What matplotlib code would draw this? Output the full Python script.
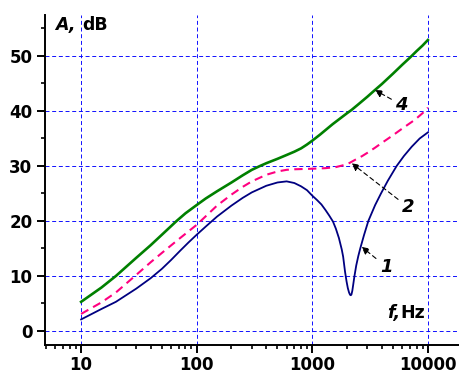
import matplotlib
matplotlib.use("Agg")
import matplotlib.pyplot as plt
from matplotlib.ticker import FixedLocator, NullFormatter

plt.rcParams["font.family"] = ["DejaVu Sans"]
plt.rcParams["font.weight"] = "bold"

# curve 1 (navy)
f1 = [10, 15, 20, 30, 40, 50, 60, 72, 85, 100, 120, 150, 200, 250, 300, 400, 500,
      600, 700, 800, 900, 1000, 1100, 1200, 1300, 1400, 1510, 1600, 1700, 1800,
      1850, 1920, 1980, 2030, 2080, 2120, 2150, 2180, 2220, 2260, 2310, 2400,
      2500, 2600, 2800, 3055, 3500, 3930, 4500, 5370, 6200, 7250, 8500, 10000]
a1 = [2.1, 4.0, 5.3, 7.7, 9.6, 11.3, 12.9, 14.6, 16.1, 17.5, 19.0, 20.8, 22.8, 24.2, 25.2, 26.4, 27.0,
      27.2, 26.9, 26.3, 25.6, 24.6, 23.8, 23.0, 22.0, 21.0, 19.9, 18.6, 16.9, 14.8,
      13.5, 10.8, 9.0, 7.8, 7.0, 6.6, 6.5, 6.6, 7.3, 8.4, 9.8, 11.9,
      13.6, 15.0, 17.4, 20.0, 22.9, 25.0, 27.3, 30.0, 31.8, 33.5, 35.0, 36.1]

# curve 2 (magenta, dashed)
f2 = [10, 15, 20, 30, 40, 51.4, 70, 100, 150, 200, 250, 300, 400, 500, 600, 700,
      1000, 1300, 1600, 2000, 2340, 2700, 3000, 3480, 4000, 5000, 6000, 7720, 9000, 10000]
a2 = [3.1, 5.2, 7.0, 10.2, 12.5, 14.4, 16.7, 19.3, 22.8, 24.8, 26.2, 27.2, 28.4, 29.0, 29.3, 29.4,
      29.5, 29.6, 29.8, 30.3, 31.1, 31.8, 32.4, 33.3, 34.2, 35.6, 36.8, 38.4, 39.6, 40.6]

# curve 4 (green)
f4 = [10, 15, 20, 30, 40, 50, 67, 80, 100, 120, 150, 200, 250, 300, 353, 400, 500,
      600, 700, 800, 900, 1000, 1167, 1500, 2000, 2190, 2500, 3000, 3480, 4000,
      5000, 6000, 7000, 8000, 9000, 10000]
a4 = [5.3, 7.9, 10.0, 13.3, 15.6, 17.5, 20.0, 21.4, 22.9, 24.1, 25.4, 27.0, 28.3, 29.3, 30.0, 30.5, 31.3,
      32.0, 32.6, 33.2, 33.9, 34.6, 35.7, 37.6, 39.6, 40.2, 41.2, 42.6, 43.8, 44.9,
      46.8, 48.4, 49.7, 50.9, 51.9, 52.9]

yticks = [0, 10, 20, 30, 40, 50]
yminor = [5, 15, 25, 35, 45, 55]
xticks = [10, 100, 1000, 10000]
xlabels = ["10", "100", "1000", "10000"]

fig = plt.figure(figsize=(4.6, 3.74), dpi=100)
ax = fig.add_axes([45.5 / 460, 29 / 374, 414.5 / 460, 330 / 374])

ax.plot(f4, a4, color="#008000", lw=1.9, zorder=3)
ax.plot(f2, a2, color="#ff0080", lw=1.5, dashes=(4, 2.6), zorder=3)
ax.plot(f1, a1, color="#000080", lw=1.3, zorder=3)

ax.set_xscale("log")
ax.set_xlim(4.92, 18970)
ax.set_ylim(-2.55, 57.45)

ax.xaxis.set_major_locator(FixedLocator(xticks))
ax.set_xticklabels(xlabels)
minx = [m * 10 ** d for d in range(0, 5) for m in range(2, 10)]
ax.xaxis.set_minor_locator(FixedLocator(minx))
ax.xaxis.set_minor_formatter(NullFormatter())
ax.set_yticks(yticks)
ax.set_yticks(yminor, minor=True)

for s in ["top", "right"]:
    ax.spines[s].set_visible(False)
for s in ["left", "bottom"]:
    ax.spines[s].set_linewidth(1.4)

ax.tick_params(which="major", direction="out", length=6, width=1.4, pad=3.5,
               labelsize=12)
ax.tick_params(axis="x", which="major", pad=1.8)
ax.tick_params(which="minor", direction="out", length=3, width=1.2)

ax.grid(True, which="major", color="#0000ff", lw=0.65, linestyle=(0, (4.4, 3.0)))

# axis titles
ax.text(0.023, 0.970, "A,", transform=ax.transAxes, fontsize=12.5,
        fontstyle="italic", va="center", ha="left")
ax.text(0.088, 0.970, "dB", transform=ax.transAxes, fontsize=12.5,
        va="center", ha="left")
ax.text(0.824, 0.096, "f,", transform=ax.transAxes, fontsize=12.5,
        fontstyle="italic", va="center", ha="left")
ax.text(0.855, 0.096, "Hz", transform=ax.transAxes, fontsize=12.5,
        va="center", ha="left")

# curve labels
arrow = dict(arrowstyle="-|>", color="black", lw=0.8, linestyle=(0, (4, 3)),
             mutation_scale=11, shrinkA=1, shrinkB=0)
for txt, xy, xyt in [("4", (3480, 43.8), (5930, 41.1)),
                     ("2", (2190, 30.5), (6760, 22.5)),
                     ("1", (2670, 15.3), (4350, 11.7))]:
    ax.annotate(txt, xy=xy, xytext=xyt, fontsize=13,
                fontstyle="italic", ha="center", va="center", arrowprops=arrow)

fig.savefig("out.png", dpi=100)
